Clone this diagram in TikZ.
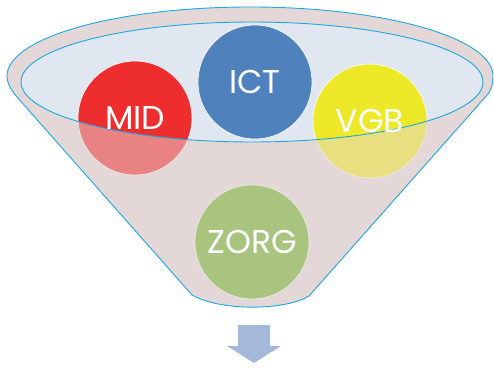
\documentclass[tikz,border=0pt]{standalone}
\usepackage{fontspec}
\setmainfont{Poppins}
\definecolor{funnelpink}{RGB}{227,215,216}
\definecolor{rimblue}{RGB}{224,231,240}
\definecolor{edgecyan}{RGB}{30,168,224}
\definecolor{midred}{RGB}{238,46,46}
\definecolor{ictblue}{RGB}{79,129,189}
\definecolor{vgbyellow}{RGB}{237,232,40}
\definecolor{zorggreen}{RGB}{109,177,38}
\definecolor{arrowblue}{RGB}{164,184,218}
\tikzset{
  ball/.style={circle,minimum size=114pt,inner sep=0pt,draw=white,line width=0.6pt},
  balltext/.style={text=white,font=\fontsize{33}{33}\selectfont},
  edge/.style={draw=edgecyan,line width=0.9pt}
}
\begin{document}
\begin{tikzpicture}[x=1pt,y=1pt,line join=round,line cap=round]
\useasboundingbox (0,0) rectangle (494,367);
\def\funnel{(7,291) arc[start angle=180,end angle=0,x radius=243,y radius=69]
  .. controls (493,283) and (491,277) .. (488,273) -- (309,71)
  .. controls (287,57) and (222,55) .. (192,72) -- (17,270)
  .. controls (10,278) and (7,285) .. (7,291) -- cycle}
\def\rim{(252,285) ellipse[x radius=231,y radius=60]}
% funnel body and rim
\fill[funnelpink] \funnel;
\fill[rimblue] \rim;
% the four balls
\node[ball,fill=midred] (mid) at (135,249) {};
\node[ball,fill=ictblue] (ict) at (255,285) {};
\node[ball,fill=vgbyellow] (vgb) at (370,246) {};
\node[ball,fill=zorggreen] (zorg) at (252,125) {};
% front of the funnel, seen through
\fill[funnelpink,fill opacity=0.5,even odd rule] \funnel \rim;
\draw[edge] \funnel;
\draw[edge] \rim;
\foreach \n/\t in {mid/MID,ict/ICT,vgb/VGB,zorg/ZORG}
  \node[balltext] at (\n) {\t};
% arrow out of the funnel
\fill[arrowblue] (238,42) -- (270,42) -- (270,21) -- (281,21) -- (254,4)
  -- (227,21) -- (238,21) -- cycle;
\end{tikzpicture}
\end{document}
